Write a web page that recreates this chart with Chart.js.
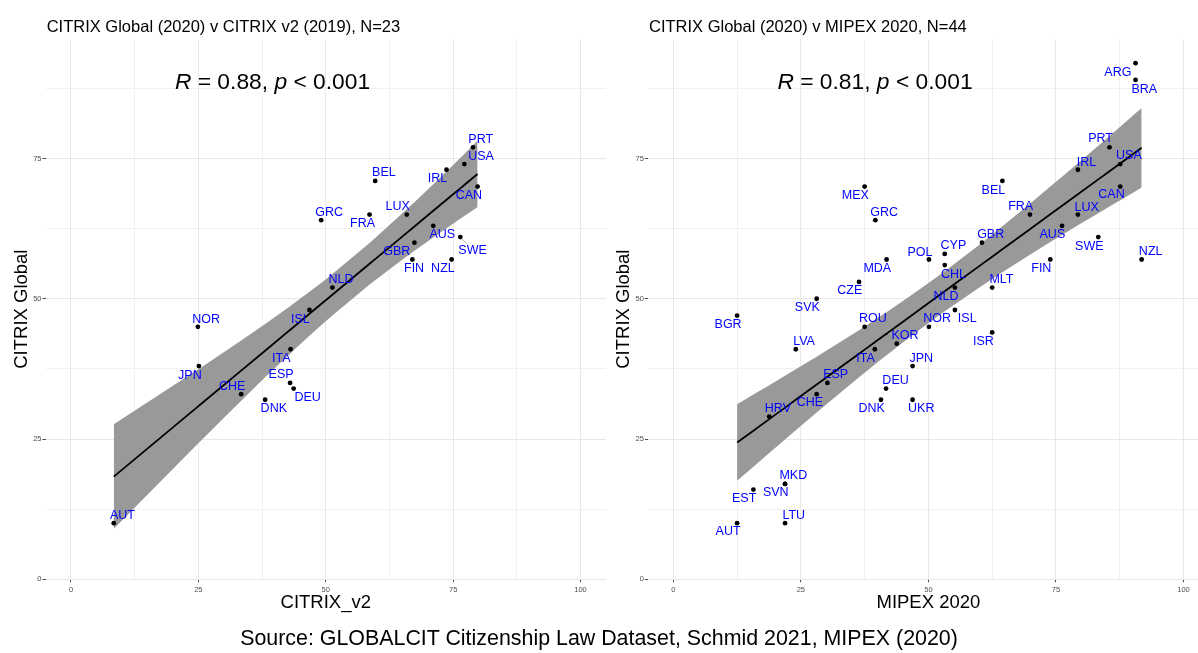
<!DOCTYPE html>
<html>
<head>
<meta charset="utf-8">
<script src="https://cdn.jsdelivr.net/npm/chart.js@4.4.1/dist/chart.umd.min.js"></script>
<style>
  html, body { margin: 0; padding: 0; background: #fff; overflow: hidden; }
  #wrap { position: relative; width: 1198px; height: 653px; overflow: hidden; }
  canvas { position: absolute; top: 0; }
  #leftChart { left: 0; }
  #rightChart { left: 600px; }
  #caption {
    position: absolute; left: 0; top: 625px; width: 1198px;
    text-align: center; color: #000;
    font: 21.4px "Liberation Sans", Arial, sans-serif; line-height: 26px;
  }
</style>
</head>
<body>
<div id="wrap">
  <canvas id="leftChart" width="610" height="653"></canvas>
  <canvas id="rightChart" width="615" height="653"></canvas>
  <div id="caption">Source: GLOBALCIT Citizenship Law Dataset, Schmid 2021, MIPEX (2020)</div>
</div>
<script>
const xTickValues = [0, 25, 50, 75, 100];
const yTickValues = [0, 25, 50, 75];

// CITRIX Global (2020) v CITRIX v2 (2019)
const v2Countries = ['PRT', 'USA', 'IRL', 'BEL', 'CAN', 'GRC', 'FRA', 'LUX', 'AUS', 'SWE', 'GBR', 'FIN',
    'NZL', 'NLD', 'ISL', 'NOR', 'ITA', 'JPN', 'ESP', 'DEU', 'CHE', 'DNK', 'AUT'];
const v2Scores = [78.9, 77.2, 73.7, 59.7, 79.8, 49.1, 58.6, 65.9, 71.1, 76.4, 67.4, 67.0,
    74.7, 51.3, 46.8, 24.9, 43.1, 25.1, 43.0, 43.7, 33.4, 38.1, 8.4];
const v2Global = [77, 74, 73, 71, 70, 64, 65, 65, 63, 61, 60, 57,
    57, 52, 48, 45, 41, 38, 35, 34, 33, 32, 10];

// CITRIX Global (2020) v MIPEX 2020
const mipexCountries = ['MEX', 'GRC', 'MDA', 'CZE', 'SVK', 'BGR', 'ROU', 'LVA', 'KOR', 'ITA', 'ESP',
    'DEU', 'CHE', 'DNK', 'HRV', 'MKD', 'SVN', 'EST', 'LTU', 'AUT', 'ARG', 'BRA', 'PRT', 'USA', 'IRL',
    'BEL', 'CAN', 'FRA', 'LUX', 'AUS', 'SWE', 'GBR', 'CYP', 'POL', 'FIN', 'NZL', 'CHL', 'NLD', 'MLT',
    'ISL', 'NOR', 'ISR', 'JPN', 'UKR'];
const mipexScores = [37.5, 39.6, 41.8, 36.4, 28.1, 12.5, 37.5, 24.0, 43.8, 39.5, 30.2,
    41.7, 28.1, 40.7, 18.8, 21.9, 21.9, 15.7, 21.9, 12.5, 90.6, 90.6, 85.5, 87.6, 79.3,
    64.5, 87.6, 69.9, 79.3, 76.2, 83.3, 60.5, 53.2, 50.1, 73.9, 91.8, 53.2, 55.2, 62.5,
    55.2, 50.1, 62.5, 46.9, 46.9];
const mipexGlobal = [70, 64, 57, 53, 50, 47, 45, 41, 42, 41, 35,
    34, 33, 32, 29, 17, 17, 16, 10, 10, 92, 89, 77, 74, 73,
    71, 70, 65, 65, 63, 61, 60, 58, 57, 57, 57, 56, 52, 52,
    48, 45, 44, 38, 32];

const v2Corr = ['0.88', '< 0.001'];
const mipexCorr = ['0.81', '< 0.001'];

// label placement (pixel nudges from each point), as ggrepel put them
const v2Nudge = {
    PRT: [7.7, -8], USA: [16.7, -7.3], IRL: [-9, 9], BEL: [8.7, -8.3], CAN: [-8.7, 9.3], GRC: [8, -7.7],
    FRA: [-7, 9], LUX: [-9, -8], AUS: [9, 9], SWE: [12.3, 13], GBR: [-17.7, 8.7], FIN: [1.7, 9],
    NZL: [-8.7, 9], NLD: [8.7, -7.7], ISL: [-9, 9.7], NOR: [8.3, -7.3], ITA: [-9.3, 9.3], JPN: [-9, 9.3],
    ESP: [-9, -8.3], DEU: [14, 9.3], CHE: [-9, -7.7], DNK: [8.7, 9], AUT: [8.7, -8]
};
const mipexNudge = {
    MEX: [-9.3, 8.7], GRC: [8.7, -8], MDA: [-9.3, 9], CZE: [-9.3, 9], SVK: [-9.3, 8.7], BGR: [-9, 9],
    ROU: [8.3, -8], LVA: [8.3, -7.7], ITA: [-9.3, 9.3], KOR: [8.3, -7.7], ESP: [8.3, -8.3], DEU: [9.5, -7.7],
    CHE: [-6.7, 8.7], DNK: [-9.3, 9], HRV: [8.7, -8.3], MKD: [8.3, -8], SVN: [-9.3, 9], EST: [-9.3, 9.3],
    LTU: [8.7, -8], AUT: [-9, 8.7], ARG: [-17.7, 9], BRA: [8.7, 9.3], PRT: [-9, -8.3], USA: [8.7, -8.3],
    IRL: [8.7, -7.3], BEL: [-9, 9.3], CAN: [-8.7, 8.3], FRA: [-9.3, -8], LUX: [8.7, -7.3], AUS: [-9.7, 8.7],
    SWE: [-9, 9.7], GBR: [8.7, -7.7], CYP: [8.7, -8], POL: [-9, -7.3], FIN: [-9, 9.3], NZL: [9, -8],
    CHL: [8.7, 9.3], NLD: [-9, 9.3], MLT: [9.3, -8], ISL: [12.3, 9], NOR: [8.3, -8], ISR: [-8.7, 9],
    JPN: [8.7, -7.7], UKR: [8.7, 9]
};
// labels that ggrepel joined to their point with a segment
const v2Segments = ['SWE'];

const FONT = '"Liberation Sans", Arial, sans-serif';
const xGrid = [0, 12.5, 25, 37.5, 50, 62.5, 75, 87.5, 100];
const yGrid = [0, 12.5, 25, 37.5, 50, 62.5, 75, 87.5];

// lm fit with 95% confidence band, evaluated at the observed x values
function fitBand(xs, ys, tCrit) {
    const n = xs.length;
    const mx = xs.reduce((a, b) => a + b, 0) / n;
    const my = ys.reduce((a, b) => a + b, 0) / n;
    let sxx = 0, sxy = 0;
    xs.forEach((x, i) => { sxx += (x - mx) ** 2; sxy += (x - mx) * (ys[i] - my); });
    const slope = sxy / sxx;
    const icpt = my - slope * mx;
    let sse = 0;
    xs.forEach((x, i) => { const e = ys[i] - (icpt + slope * x); sse += e * e; });
    const s = Math.sqrt(sse / (n - 2));
    const xsSorted = [...new Set(xs)].sort((a, b) => a - b);
    const line = [], upper = [], lower = [];
    xsSorted.forEach(x => {
        const yhat = icpt + slope * x;
        const half = tCrit * s * Math.sqrt(1 / n + (x - mx) ** 2 / sxx);
        line.push({ x: x, y: yhat });
        upper.push({ x: x, y: yhat + half });
        lower.push({ x: x, y: yhat - half });
    });
    return { line, upper, lower };
}

function textPlugin(cfg) {
    return {
        id: 'panelText',
        afterDatasetsDraw(chart) {
            const { ctx, chartArea, scales: { x, y } } = chart;
            ctx.save();

            // repel segments
            ctx.strokeStyle = '#9a9a9a';
            ctx.lineWidth = 0.7;
            (cfg.segments || []).forEach(name => {
                const i = cfg.names.indexOf(name);
                const nudge = cfg.nudge[name];
                const px = x.getPixelForValue(cfg.xs[i]), py = y.getPixelForValue(cfg.ys[i]);
                ctx.beginPath();
                ctx.moveTo(px + 2, py + 2);
                ctx.lineTo(px + nudge[0] * 0.55, py + nudge[1] * 0.55);
                ctx.stroke();
            });

            // country labels
            ctx.font = '12.5px ' + FONT;
            ctx.fillStyle = '#0000ff';
            ctx.textAlign = 'center';
            ctx.textBaseline = 'middle';
            cfg.names.forEach((name, i) => {
                const nudge = cfg.nudge[name] || [9, -8];
                ctx.fillText(name, x.getPixelForValue(cfg.xs[i]) + nudge[0], y.getPixelForValue(cfg.ys[i]) + nudge[1]);
            });

            // panel title
            ctx.fillStyle = '#000';
            ctx.textAlign = 'left';
            ctx.textBaseline = 'alphabetic';
            ctx.font = '16.5px ' + FONT;
            ctx.fillText(cfg.title, chartArea.left + 1.2, 31.7);

            // R / p annotation
            const parts = [['R', true], [' = ' + cfg.corr[0] + ', ', false], ['p', true], [' ' + cfg.corr[1], false]];
            let px = x.getPixelForValue(20.4);
            const py = y.getPixelForValue(87.3);
            parts.forEach(([t, italic]) => {
                ctx.font = (italic ? 'italic ' : '') + '22.8px ' + FONT;
                ctx.fillText(t, px, py);
                px += ctx.measureText(t).width;
            });
            ctx.restore();
        }
    };
}

function makePanel(canvasId, cfg) {
    const fit = fitBand(cfg.xs, cfg.ys, cfg.tCrit);
    const points = cfg.xs.map((x, i) => ({ x: x, y: cfg.ys[i] }));
    const isMajorX = v => xTickValues.includes(v);
    const isMajorY = v => yTickValues.includes(v);

    return new Chart(document.getElementById(canvasId), {
        type: 'scatter',
        data: {
            datasets: [
                {
                    type: 'scatter', data: points, order: 0,
                    pointRadius: 2.4, pointBackgroundColor: '#000', pointBorderColor: '#000', pointBorderWidth: 0
                },
                {
                    type: 'line', data: fit.line, order: 1,
                    borderColor: '#000', borderWidth: 1.8, pointRadius: 0, fill: false, tension: 0
                },
                {
                    type: 'line', data: fit.upper, order: 2,
                    borderColor: 'rgba(0,0,0,0)', borderWidth: 0, pointRadius: 0,
                    fill: '+1', backgroundColor: '#999999', tension: 0
                },
                {
                    type: 'line', data: fit.lower, order: 3,
                    borderColor: 'rgba(0,0,0,0)', borderWidth: 0, pointRadius: 0, fill: false, tension: 0
                }
            ]
        },
        options: {
            responsive: false,
            animation: false,
            events: [],
            layout: { padding: { top: 39, left: 0, right: cfg.padRight, bottom: 0 } },
            plugins: { legend: { display: false }, tooltip: { enabled: false } },
            scales: {
                x: {
                    type: 'linear', min: -5, max: 105,
                    afterBuildTicks: s => { s.ticks = xGrid.map(v => ({ value: v })); },
                    afterFit: s => { s.height = 653 - 579.3; },
                    border: { display: false },
                    grid: {
                        color: c => (c.tick && isMajorX(c.tick.value)) ? '#e8e8e8' : '#f1f1f1',
                        lineWidth: 1,
                        tickLength: 3,
                        tickColor: c => (c.tick && isMajorX(c.tick.value)) ? '#4d4d4d' : 'rgba(0,0,0,0)'
                    },
                    ticks: {
                        autoSkip: false, maxRotation: 0, padding: 3,
                        font: { size: 7.5, family: FONT }, color: '#4d4d4d',
                        callback: v => isMajorX(v) ? String(v) : ''
                    },
                    title: {
                        display: true, text: cfg.xTitle, color: '#000',
                        font: { size: 18.5, family: FONT }, padding: { top: 0, bottom: 38.9 }
                    }
                },
                y: {
                    type: 'linear', min: 0, max: 96.3,
                    afterBuildTicks: s => { s.ticks = yGrid.map(v => ({ value: v })); },
                    afterFit: s => { s.width = cfg.yAxisWidth; },
                    border: { display: false },
                    grid: {
                        color: c => (c.tick && isMajorY(c.tick.value)) ? '#e8e8e8' : '#f1f1f1',
                        lineWidth: 1,
                        tickLength: 3,
                        tickColor: c => (c.tick && isMajorY(c.tick.value)) ? '#4d4d4d' : 'rgba(0,0,0,0)'
                    },
                    ticks: {
                        autoSkip: false, padding: 1,
                        font: { size: 7.5, family: FONT }, color: '#4d4d4d',
                        callback: v => isMajorY(v) ? String(v) : ''
                    },
                    title: {
                        display: true, text: 'CITRIX Global', color: '#000',
                        font: { size: 18.5, family: FONT }, padding: { top: cfg.yTitlePad, bottom: 0 }
                    }
                }
            }
        },
        plugins: [textPlugin(cfg)]
    });
}

makePanel('leftChart', {
    names: v2Countries, xs: v2Scores, ys: v2Global, nudge: v2Nudge, corr: v2Corr, tCrit: 2.0796,
    segments: v2Segments,
    title: 'CITRIX Global (2020) v CITRIX v2 (2019), N=23', xTitle: 'CITRIX_v2',
    yAxisWidth: 45.5, padRight: 2.8, yTitlePad: 10.9
});

makePanel('rightChart', {
    names: mipexCountries, xs: mipexScores, ys: mipexGlobal, nudge: mipexNudge, corr: mipexCorr, tCrit: 2.0181,
    title: 'CITRIX Global (2020) v MIPEX 2020, N=44', xTitle: 'MIPEX 2020',
    yAxisWidth: 47.8, padRight: 6, yTitlePad: 12.9
});
</script>
</body>
</html>
